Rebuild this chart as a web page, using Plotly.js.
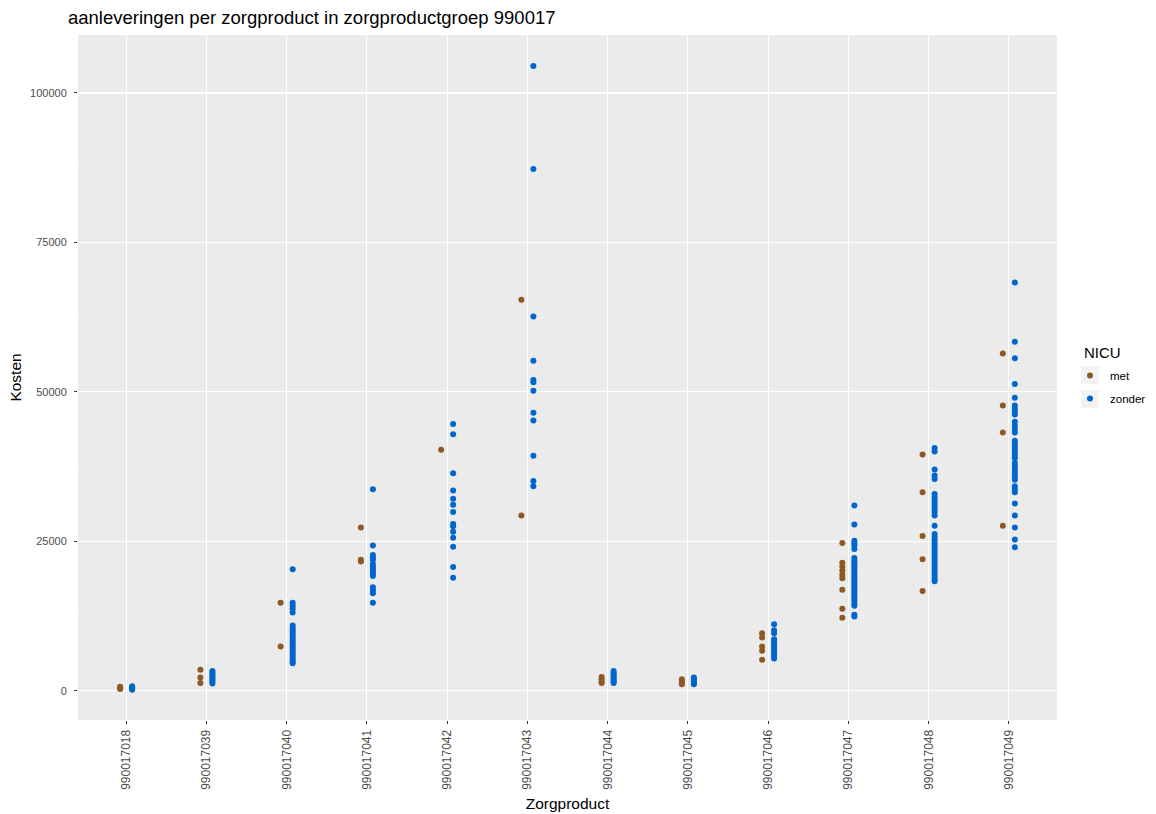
<!DOCTYPE html>
<html>
<head>
<meta charset="utf-8">
<script src="https://cdn.plot.ly/plotly-3.0.1.min.js"></script>
<style>html,body{margin:0;padding:0;background:#fff;}#chart{width:1156px;height:814px;}</style>
</head>
<body>
<div id="chart"></div>
<script>
// Categories (Zorgproduct)
const categories = ["990017018","990017039","990017040","990017041","990017042","990017043",
                    "990017044","990017045","990017046","990017047","990017048","990017049"];

// Kosten, NICU = met (one list per category, in category order)
const metKosten = [
  [300, 500, 650],
  [3500, 2200, 1300],
  [14700, 7400],
  [27300, 21900, 21600],
  [40300],
  [65400, 29300],
  [2300, 1900, 1500, 1300],
  [1900, 1600, 1300, 1100],
  [9600, 8900, 7400, 6700, 5200],
  [24700, 21400, 20800, 20100, 19400, 18800, 16900, 13700, 12200],
  [39500, 33200, 25900, 22000, 16700],
  [56400, 47700, 43200, 27600]
];

// Kosten, NICU = zonder
const zonderKosten = [
  [150, 350, 550, 750],
  [3300, 3000, 2700, 2400, 2100, 1800, 1500, 1200],
  [20300, 14700, 14200, 13700, 13100, 10900, 10500, 10100, 9700, 9300, 8900, 8500, 8100, 7700, 7300, 6900, 6500, 6100, 5700, 5300, 4900, 4600],
  [33700, 24300, 22700, 22300, 21900, 21200, 20800, 20400, 20000, 19600, 19200, 17300, 16800, 16300, 14700],
  [44600, 42900, 36400, 33500, 32100, 31100, 29900, 27900, 27500, 26600, 25600, 24100, 20700, 18900],
  [104500, 87300, 62600, 55200, 52000, 51600, 50200, 46500, 45200, 39300, 35100, 34200],
  [3300, 3000, 2700, 2400, 2100, 1800, 1500, 1300],
  [2200, 1900, 1600, 1300, 1100],
  [11100, 10100, 9600, 8600, 8200, 7800, 7400, 7000, 6600, 6200, 5800, 5400],
  [31000, 27800, 25100, 24700, 24300, 23700, 22200, 21800, 21400, 21000, 20600, 20200, 19800, 19400, 19000, 18600, 18200, 17800, 17400, 17000, 16600, 16200, 15800, 15400, 15000, 14600, 14200, 12700, 12400],
  [40600, 40000, 37000, 36000, 35400, 32900, 32400, 31900, 31400, 30900, 30400, 29900, 29300, 27600, 26200, 25700, 25200, 24700, 24200, 23700, 23200, 22700, 22200, 21700, 21200, 20700, 20200, 19700, 19200, 18700, 18300],
  [68300, 58400, 55600, 51300, 49000, 47700, 47200, 46700, 46200, 45000, 44400, 43800, 43200, 41800, 41300, 40800, 40300, 39800, 39300, 38900, 38100, 37600, 37100, 36600, 36100, 35700, 35300, 34200, 33700, 33200, 31300, 29300, 27300, 25300, 24000]
];

const seriesNames = ["met", "zonder"];
const legendTitle = "NICU";
const yTicks = [0, 25000, 50000, 75000, 100000];

function flatten(lists) {
  const x = [], y = [];
  lists.forEach((vals, i) => vals.forEach(v => { x.push(categories[i]); y.push(v); }));
  return {x, y};
}

const fontFam = '"Liberation Sans", Arial, sans-serif';
const met = flatten(metKosten);
const zonder = flatten(zonderKosten);

const traces = [
  {type: 'scatter', mode: 'markers', name: seriesNames[0], legendgroup: 'g1', x: met.x, y: met.y,
   marker: {color: '#8B5A24', size: 6, line: {width: 0}}, hoverinfo: 'x+y'},
  {type: 'scatter', mode: 'markers', name: seriesNames[1], legendgroup: 'g2', x: zonder.x, y: zonder.y,
   marker: {color: '#0066CC', size: 6, line: {width: 0}}, hoverinfo: 'x+y'}
];

// pixel helpers for legend decoration (paper coords relative to plot area)
const L = 78, R = 1057, T = 35, B = 720;
const px = v => (v - L) / (R - L);
const py = v => (B - v) / (B - T);

const keyBoxes = [366, 390].map(top => ({
  type: 'rect', xref: 'paper', yref: 'paper', layer: 'below',
  x0: px(1081), x1: px(1099), y0: py(top + 18), y1: py(top),
  fillcolor: '#f2f2f2', line: {width: 0}
}));

const layout = {
  width: 1156, height: 814,
  margin: {l: 78, r: 99, t: 35, b: 94},
  paper_bgcolor: '#ffffff',
  plot_bgcolor: '#ebebeb',
  font: {family: fontFam, color: '#000'},
  scattermode: 'group',
  scattergap: 0.7,
  title: {text: 'aanleveringen per zorgproduct in zorgproductgroep 990017',
          x: 68/1156, xref: 'container', xanchor: 'left',
          y: 1 - 18/814, yref: 'container', yanchor: 'middle',
          font: {size: 18.5, color: '#000', family: fontFam}},
  xaxis: {
    type: 'category', categoryorder: 'array', categoryarray: categories,
    range: [-0.6, 11.6],
    showgrid: true, gridcolor: '#ffffff', gridwidth: 1.1,
    zeroline: false, showline: false,
    ticks: 'outside', ticklen: 3, tickwidth: 1, tickcolor: '#333333',
    tickangle: -90, ticklabelstandoff: 1,
    tickfont: {size: 12, color: '#4d4d4d', family: fontFam},
    title: {text: 'Zorgproduct', font: {size: 15.5, color: '#000', family: fontFam}, standoff: 9},
    automargin: false, fixedrange: true
  },
  yaxis: {
    range: [-4900, 109700],
    tickvals: yTicks, ticktext: yTicks.map(String),
    showgrid: true, gridcolor: '#ffffff', gridwidth: 1.1,
    minor: {dtick: 12500, tick0: 12500, showgrid: true, gridcolor: '#f4f4f4', gridwidth: 0.6, ticks: ''},
    zeroline: false, showline: false,
    ticks: 'outside', ticklen: 3, tickwidth: 1, tickcolor: '#333333',
    ticklabelstandoff: 5,
    tickfont: {size: 11, color: '#4d4d4d', family: fontFam},
    title: {text: 'Kosten', font: {size: 15.5, color: '#000', family: fontFam}, standoff: 4},
    automargin: false, fixedrange: true
  },
  showlegend: true,
  legend: {
    xref: 'container', yref: 'container',
    x: 1070/1156, xanchor: 'left', y: 1 - 361/814, yanchor: 'top',
    bgcolor: 'rgba(255,255,255,0)',
    font: {size: 11.5, color: '#000', family: fontFam},
    itemsizing: 'trace', tracegroupgap: 4
  },
  shapes: keyBoxes,
  annotations: [{
    text: legendTitle, xref: 'paper', yref: 'paper', x: px(1082), y: py(352),
    xanchor: 'left', yanchor: 'middle', showarrow: false,
    font: {size: 15, color: '#000', family: fontFam}
  }]
};

Plotly.newPlot('chart', traces, layout, {displayModeBar: false, staticPlot: true});
</script>
</body>
</html>
